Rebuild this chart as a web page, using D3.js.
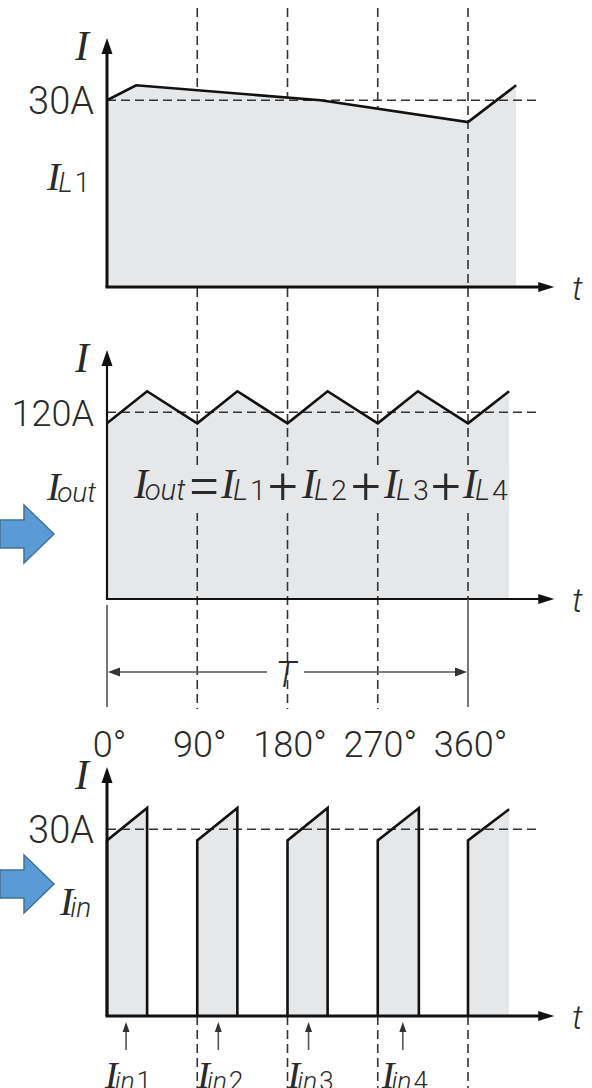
<!DOCTYPE html>
<html>
<head>
<meta charset="utf-8">
<script src="https://cdn.jsdelivr.net/npm/d3@7"></script>
<style>
  body { margin: 0; background: #fff; }
  svg { display: block; }
  .lbl { font-family: Roboto, "Liberation Sans", sans-serif; font-weight: 300; fill: #2a2a2a; }
  .sym { font-family: "Liberation Serif", serif; font-style: italic; fill: #2a2a2a; }
  .sub { font-family: Roboto, "Liberation Sans", sans-serif; font-style: italic; font-weight: 300; fill: #2a2a2a; }
  .dash { stroke: #333; stroke-width: 1.6; stroke-dasharray: 9,5; fill: none; }
  .dim { stroke: #555; stroke-width: 1.6; fill: none; }
  .wave { stroke: #111; stroke-width: 2.6; fill: none; stroke-linejoin: miter; }
  .shade { fill: #e6e7e9; stroke: none; }
</style>
</head>
<body>
<script>
//everything inside an IIFE so nothing leaks to global scope
(function(){

    //phase grid (degrees)
    var phaseTicks = [0, 90, 180, 270, 360];
    var phaseLabels = ["0°", "90°", "180°", "270°", "360°"];

    //inductor current I_L1 (top panel)
    var coilPhase = [0, 29, 213, 360, 408];
    var coilCurrent = [30, 32.4, 30.0, 26.5, 32.4];

    //summed output current (middle panel)
    var outPhase = [0, 40, 90, 130, 180, 220, 270, 310, 360, 401];
    var outCurrent = [112.9, 133.5, 112.9, 133.5, 112.9, 133.5, 112.9, 133.5, 112.9, 133.5];

    //input current pulses (bottom panel)
    var pulseStart = [0, 90, 180, 270, 360];
    var pulseEnd = [40, 130, 220, 311, 401];
    var pulseLow = [28.2, 28.2, 28.2, 28.2, 28.2];
    var pulseHigh = [33.4, 33.4, 33.4, 33.4, 33.2];
    var pulseClosed = [true, true, true, true, false];

    //markers under the bottom panel
    var inputMarks = [19, 111, 201, 295];
    var inputNames = ["1", "2", "3", "4"];

    //reference levels and axis tops per panel
    var refCurrent = [30, 120, 30];
    var refLabels = ["30A", "120A", "30A"];
    var axisMax = [40, 160, 40];

    //terms of the sum formula
    var formulaSubs = ["L", "L", "L", "L"];
    var formulaDigits = ["1", "2", "3", "4"];

    //frame
    var width = 592, height = 1088;
    var baseY = [287, 599, 1016],
        panelH = 249,
        axisEnd = 446,   //degrees where the t arrow ends
        refEnd = 428;    //degrees where the reference dash ends

    var svg = d3.select("body")
        .append("svg")
        .attr("width", width)
        .attr("height", height);

    var x = d3.scaleLinear()
        .domain([0, 360])
        .range([107, 468]);

    var y = baseY.map(function(b, i){
        return d3.scaleLinear().domain([0, axisMax[i]]).range([b, b - panelH]);
    });

    var coilData = coilPhase.map(function(p, i){ return [p, coilCurrent[i]]; });
    var outData = outPhase.map(function(p, i){ return [p, outCurrent[i]]; });

    function areaFor(ys){
        return d3.area()
            .x(function(d){ return x(d[0]); })
            .y0(ys(0))
            .y1(function(d){ return ys(d[1]); });
    }
    function lineFor(ys){
        return d3.line()
            .x(function(d){ return x(d[0]); })
            .y(function(d){ return ys(d[1]); });
    }

    //middle and bottom shading go under the dashed guides
    svg.append("path")
        .datum(outData)
        .attr("class", "shade")
        .attr("d", areaFor(y[1]));

    var pulses = pulseStart.map(function(s, i){
        return [[s, pulseLow[i]], [pulseEnd[i], pulseHigh[i]]];
    });
    svg.selectAll(".pulseShade")
        .data(pulses)
        .enter()
        .append("path")
        .attr("class", "shade pulseShade")
        .attr("d", areaFor(y[2]));

    //dashed phase guides (90/180/270) running down through top and middle panels
    var inner = phaseTicks.slice(1, 4);
    svg.selectAll(".guide")
        .data(inner)
        .enter()
        .append("line")
        .attr("class", "dash guide")
        .attr("x1", function(d){ return x(d); })
        .attr("x2", function(d){ return x(d); })
        .attr("y1", 8)
        .attr("y2", 709);

    //guides again under the bottom axis
    svg.selectAll(".guideLow")
        .data(phaseTicks.slice(1))
        .enter()
        .append("line")
        .attr("class", "dash guideLow")
        .attr("x1", function(d){ return x(d); })
        .attr("x2", function(d){ return x(d); })
        .attr("y1", baseY[2])
        .attr("y2", height);

    //top panel shading hides the inner guides
    svg.append("path")
        .datum(coilData)
        .attr("class", "shade")
        .attr("d", areaFor(y[0]));

    //360 guide stays visible
    svg.append("line")
        .attr("class", "dash")
        .attr("x1", x(360)).attr("x2", x(360))
        .attr("y1", 8).attr("y2", baseY[1]);

    //backdrop behind the formula
    svg.append("rect")
        .attr("class", "shade")
        .attr("x", 128)
        .attr("y", 466)
        .attr("width", x(401) - 128)
        .attr("height", 47);

    //horizontal reference levels
    svg.selectAll(".ref")
        .data(refCurrent)
        .enter()
        .append("line")
        .attr("class", "dash ref")
        .attr("x1", x(0))
        .attr("x2", x(refEnd))
        .attr("y1", function(d, i){ return y[i](d); })
        .attr("y2", function(d, i){ return y[i](d); });

    //waveforms
    svg.append("path")
        .datum(coilData)
        .attr("class", "wave")
        .attr("d", lineFor(y[0]));

    svg.append("path")
        .datum(outData)
        .attr("class", "wave")
        .attr("d", lineFor(y[1]));

    svg.selectAll(".pulse")
        .data(pulses)
        .enter()
        .append("path")
        .attr("class", "wave pulse")
        .attr("d", function(d, i){
            var pts = [[d[0][0], 0], d[0], d[1]];
            if (pulseClosed[i]) pts.push([d[1][0], 0]);
            return lineFor(y[2])(pts);
        });

    //axes with arrow heads
    baseY.forEach(function(b, i){
        var w = i === 1 ? 2.2 : 3;
        var top = b - panelH;
        svg.append("line")
            .attr("x1", x(0)).attr("x2", x(0))
            .attr("y1", b).attr("y2", top + 12)
            .attr("stroke", "#111").attr("stroke-width", w);
        svg.append("line")
            .attr("x1", x(0) - w / 2).attr("x2", x(axisEnd) - 12)
            .attr("y1", b).attr("y2", b)
            .attr("stroke", "#111").attr("stroke-width", w);
        svg.append("path")
            .attr("d", "M" + x(0) + "," + top + "l-5.5,16l11,0z")
            .attr("fill", "#111");
        svg.append("path")
            .attr("d", "M" + x(axisEnd) + "," + b + "l-16,-5l0,10z")
            .attr("fill", "#111");

        //axis captions
        svg.append("text")
            .attr("class", "sym")
            .attr("x", 75)
            .attr("y", top + 22)
            .style("font-size", "42px")
            .text("I");
        svg.append("text")
            .attr("class", "sub")
            .attr("x", 572)
            .attr("y", b + 13)
            .style("font-size", "34px")
            .text("t");
        svg.append("text")
            .attr("class", "lbl")
            .attr("x", 94)
            .attr("y", y[i](refCurrent[i]) + 14)
            .attr("text-anchor", "end")
            .style("font-size", i === 1 ? "36px" : "38px")
            .text(refLabels[i]);
    });

    //helper for italic I with subscript
    function symbolText(px, py, sub, digit, size, anchor){
        var t = svg.append("text")
            .attr("x", px)
            .attr("y", py)
            .attr("text-anchor", anchor || "start");
        t.append("tspan")
            .attr("class", "sym")
            .style("font-size", size + "px")
            .text("I");
        if (sub) {
            t.append("tspan")
                .attr("class", "sub")
                .attr("dx", sub === "L" ? -size * 0.05 : -size * 0.08)
                .attr("dy", 2)
                .style("font-size", (size * 0.7) + "px")
                .text(sub);
        }
        if (digit) {
            t.append("tspan")
                .attr("class", "lbl")
                .attr("dx", 2)
                .style("font-size", (size * 0.68) + "px")
                .text(digit);
        }
        return t;
    }

    //panel names
    symbolText(47, 190, "L", "1", 40);
    symbolText(47, 500, "out", null, 40);
    symbolText(60, 915, "in", null, 40);

    //formula I_out = I_L1 + I_L2 + I_L3 + I_L4
    var termX = [221, 302, 384, 463],
        plusX = [283, 366, 446];
    symbolText(134, 498, "out", null, 42);
    svg.append("text")
        .attr("class", "lbl")
        .attr("x", 204)
        .attr("y", 506)
        .attr("text-anchor", "middle")
        .style("font-size", "60px")
        .text("=");
    formulaSubs.forEach(function(s, i){
        symbolText(termX[i], 498, s, formulaDigits[i], 42);
    });
    plusX.forEach(function(px){
        svg.append("text")
            .attr("class", "lbl")
            .attr("x", px)
            .attr("y", 504)
            .attr("text-anchor", "middle")
            .style("font-size", "52px")
            .text("+");
    });

    //period dimension T
    svg.append("line").attr("class", "dim")
        .attr("x1", x(0)).attr("x2", x(0)).attr("y1", 605).attr("y2", 707);
    svg.append("line").attr("class", "dim")
        .attr("x1", x(360)).attr("x2", x(360)).attr("y1", baseY[1]).attr("y2", 707);
    svg.append("line").attr("class", "dim")
        .attr("x1", x(0) + 10).attr("x2", 267).attr("y1", 672).attr("y2", 672);
    svg.append("line").attr("class", "dim")
        .attr("x1", 304).attr("x2", x(360) - 10).attr("y1", 672).attr("y2", 672);
    svg.append("path").attr("fill", "#333")
        .attr("d", "M" + (x(0) + 1) + ",672l12,-4.5l0,9z");
    svg.append("path").attr("fill", "#333")
        .attr("d", "M" + (x(360) - 1) + ",672l-12,-4.5l0,9z");
    svg.append("text")
        .attr("class", "sub")
        .attr("x", 286)
        .attr("y", 687)
        .attr("text-anchor", "middle")
        .style("font-size", "36px")
        .text("T");

    //phase labels via axis
    var phaseAxis = d3.axisBottom(x)
        .tickValues(phaseTicks)
        .tickSize(0)
        .tickPadding(0)
        .tickFormat(function(d, i){ return phaseLabels[i]; });
    var pa = svg.append("g")
        .attr("transform", "translate(2,757)")
        .call(phaseAxis);
    pa.select(".domain").remove();
    pa.selectAll("text")
        .attr("class", "lbl")
        .attr("dy", 0)
        .attr("font-family", null)
        .style("font-size", "36px");

    //input current markers
    inputMarks.forEach(function(m, i){
        var mx = x(m);
        svg.append("line")
            .attr("class", "dim")
            .attr("stroke", "#333")
            .attr("x1", mx).attr("x2", mx)
            .attr("y1", 1050).attr("y2", 1030);
        svg.append("path")
            .attr("fill", "#333")
            .attr("d", "M" + mx + ",1022l-3.5,10l7,0z");
        symbolText(mx + 2, 1088, "in", inputNames[i], 38, "middle");
    });

    //blue block arrows on the left
    function blueArrow(cy){
        var p = d3.path();
        p.moveTo(0, cy - 14);
        p.lineTo(24, cy - 14);
        p.lineTo(24, cy - 29);
        p.lineTo(54, cy);
        p.lineTo(24, cy + 29);
        p.lineTo(24, cy + 14);
        p.lineTo(0, cy + 14);
        p.closePath();
        svg.append("path")
            .attr("d", p.toString())
            .attr("fill", "#5b9bd5")
            .attr("stroke", "#41719c")
            .attr("stroke-width", 1.5);
    }
    blueArrow(534);
    blueArrow(884);

})();
</script>
</body>
</html>
